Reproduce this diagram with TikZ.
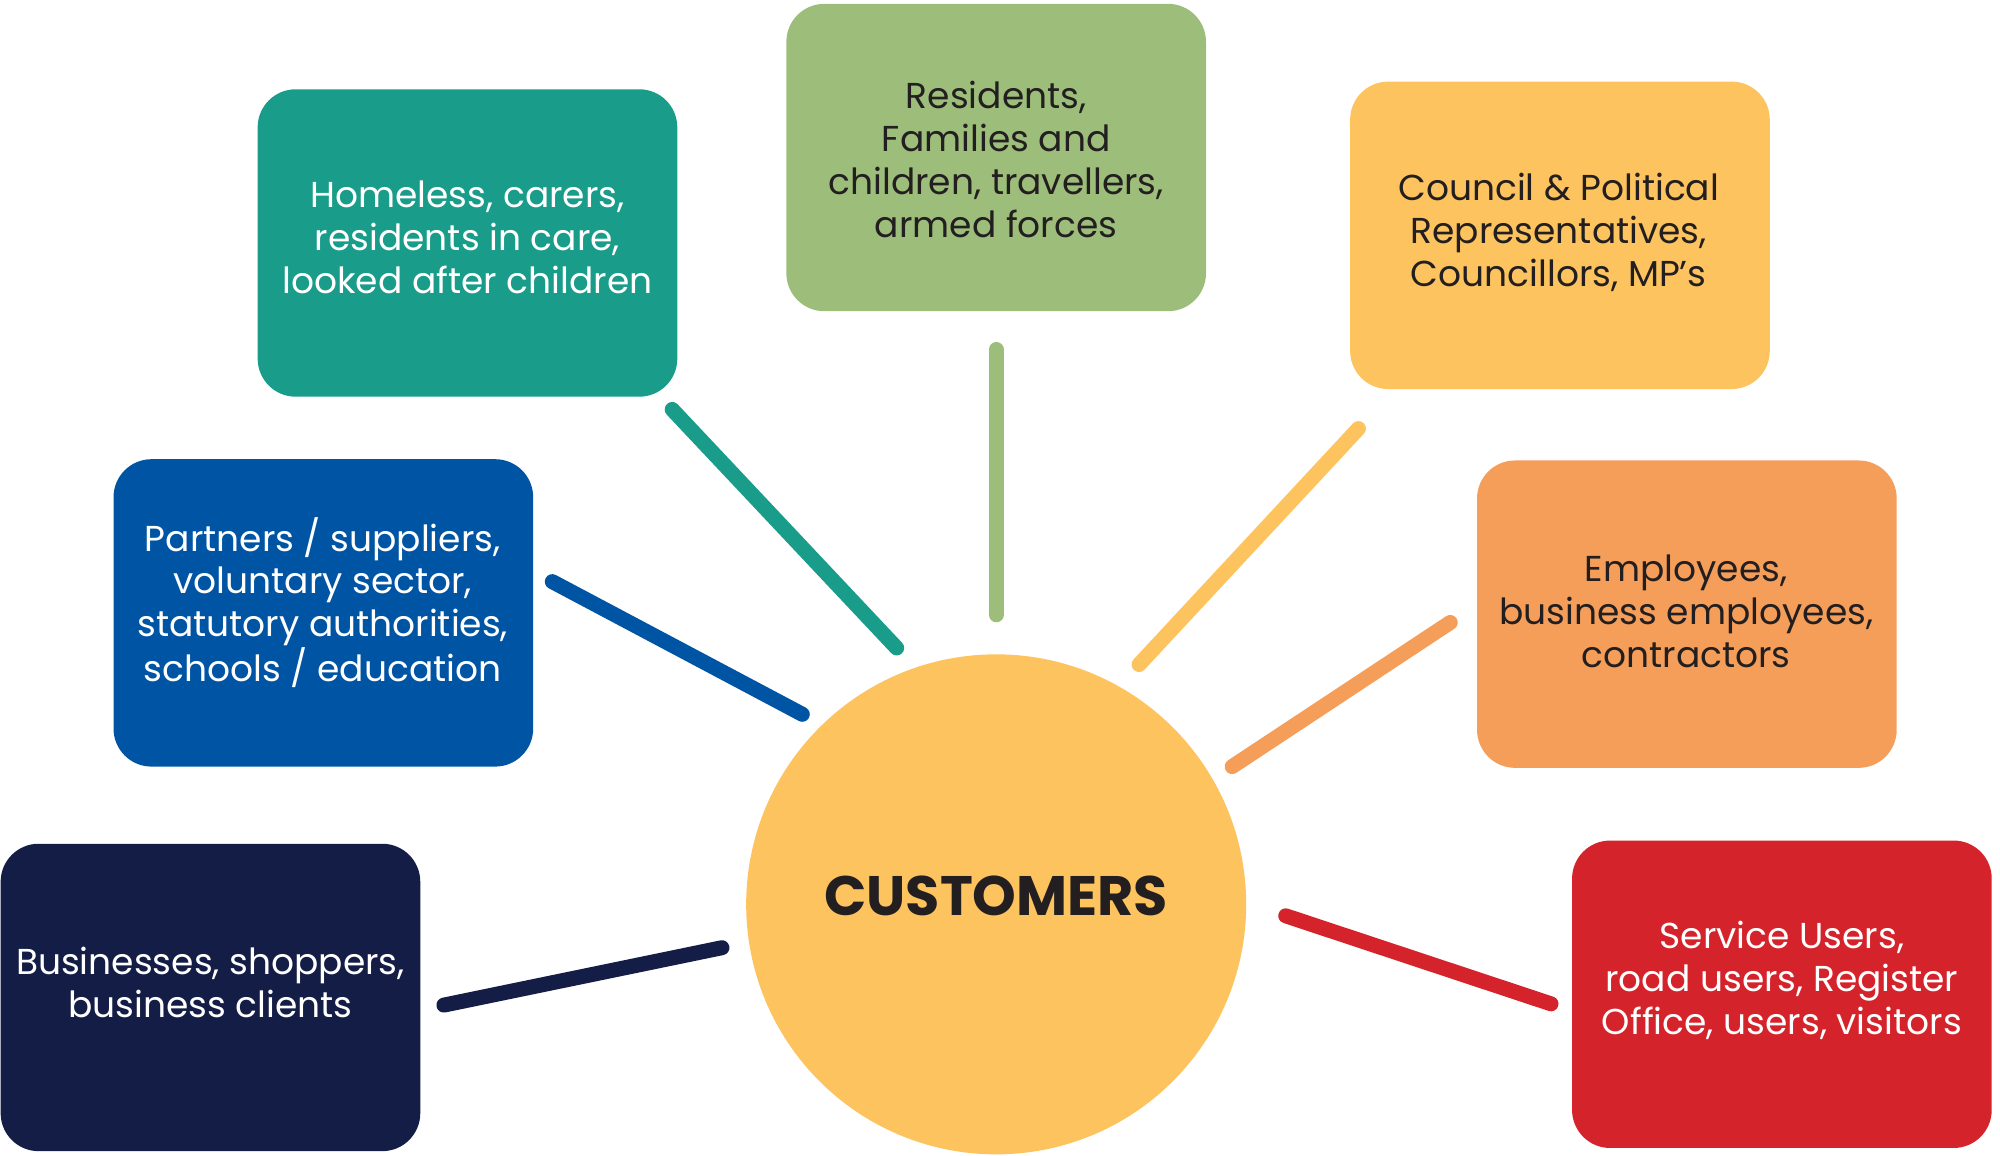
\documentclass[tikz,border=0pt]{standalone}
\usepackage{fontspec}
\setmainfont{Poppins}
\definecolor{cteal}{HTML}{1A9C8A}
\definecolor{cgreen}{HTML}{9DBE7A}
\definecolor{cyellow}{HTML}{FCC35E}
\definecolor{cblue}{HTML}{0054A4}
\definecolor{corange}{HTML}{F59E5A}
\definecolor{cnavy}{HTML}{141D45}
\definecolor{cred}{HTML}{D4232A}
\definecolor{ink}{HTML}{231F20}
\begin{document}
\begin{tikzpicture}[x=0.6378pt,y=-0.6378pt,
  box/.style={rounded corners=19pt, minimum width=329*0.6378pt, minimum height=241*0.6378pt, inner sep=0pt},
  txt/.style={align=center, font=\fontsize{18}{21.4}\selectfont, inner sep=0pt},
  spoke/.style={line width=7.5pt, line cap=round}]
\useasboundingbox (0,0) rectangle (1568,906);
% boxes
\node[box, fill=cteal] (homeless) at (366.5,190.5) {};
\node[txt, text=white] (thomeless) at (366.5,186) {Homeless, carers,\\residents in care,\\looked after children};
\node[box, fill=cgreen] (residents) at (781,123.5) {};
\node[txt, text=ink] (tresidents) at (781,125) {Residents,\\Families and\\children, travellers,\\armed forces};
\node[box, fill=cyellow] (council) at (1223,184.5) {};
\node[txt, text=ink] (tcouncil) at (1222,182) {Council \& Political\\Representatives,\\Councillors, MP’s};
\node[box, fill=cblue] (partners) at (253.5,480.5) {};
\node[txt, text=white] (tpartners) at (253,472.5) {Partners / suppliers,\\voluntary sector,\\statutory authorities,\\schools / education};
\node[box, fill=corange] (employees) at (1322.5,481.5) {};
\node[txt, text=ink] (temployees) at (1322,479.5) {Employees,\\business employees,\\contractors};
\node[box, fill=cnavy] (business) at (165,782) {};
\node[txt, text=white] (tbusiness) at (165,770.5) {Businesses, shoppers,\\business clients};
\node[box, fill=cred] (service) at (1397,779.5) {};
\node[txt, text=white] (tservice) at (1397,768.5) {Service Users,\\road users, Register\\Office, users, visitors};
% circle
\node[circle, fill=cyellow, minimum size=392*0.6378pt, inner sep=0pt] (cust) at (781,709) {};
\node[font=\fontsize{27.8}{32}\bfseries\selectfont, text=ink, inner sep=0pt] (tcust) at (781,702) {CUSTOMERS};
% spokes
\coordinate (a1) at (527,321); \coordinate (a2) at (703,508);
\coordinate (b1) at (781,274); \coordinate (b2) at (781,482);
\coordinate (c1) at (1065,336); \coordinate (c2) at (893,521);
\coordinate (d1) at (433,456); \coordinate (d2) at (629,560);
\coordinate (e1) at (1137,488); \coordinate (e2) at (966,601);
\coordinate (f1) at (348,788); \coordinate (f2) at (566,743);
\coordinate (g1) at (1008,718); \coordinate (g2) at (1216,787);
\draw[spoke, cteal] (a1) -- (a2);
\draw[spoke, cgreen] (b1) -- (b2);
\draw[spoke, cyellow] (c1) -- (c2);
\draw[spoke, cblue] (d1) -- (d2);
\draw[spoke, corange] (e1) -- (e2);
\draw[spoke, cnavy] (f1) -- (f2);
\draw[spoke, cred] (g1) -- (g2);
\end{tikzpicture}
\end{document}
